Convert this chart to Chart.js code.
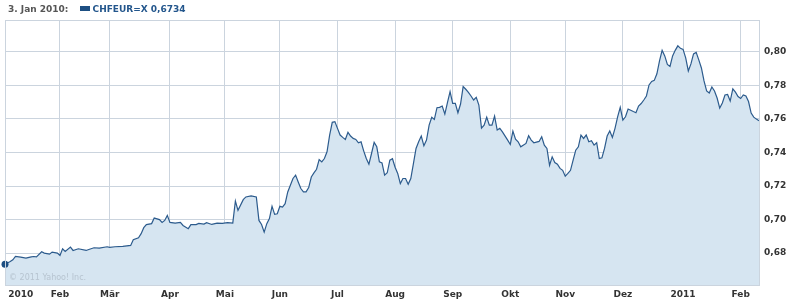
<!DOCTYPE html>
<html>
<head>
<meta charset="utf-8">
<script src="https://cdn.jsdelivr.net/npm/chart.js@4"></script>
<style>
  html, body { margin: 0; padding: 0; background: #fff; }
  #wrap { position: relative; width: 787px; height: 303px; }
  #head { position: absolute; left: 8px; top: 4px; font: bold 9px "DejaVu Sans", sans-serif; color: #555; white-space: nowrap; }
  #head .key { display: inline-block; width: 10px; height: 5px; background: #1d4f82; margin: 0 3px 0 8px; vertical-align: 1px; }
  #head .sym { color: #23568c; }
</style>
</head>
<body>
<div id="wrap">
  <canvas id="chf-chart" width="787" height="303"></canvas>
  <div id="head">3. Jan 2010: <span class="key"></span><span class="sym">CHFEUR=X 0,6734</span></div>
</div>
<script>
// trading day index counted from 3 Jan 2010, CHF in EUR
const tradingDay = [
  0, 2, 3, 4, 6, 8, 10, 11, 12, 14, 15, 17, 18, 20, 21, 22, 23, 25, 26, 28,
  31, 32, 34, 36, 39, 40, 42, 45, 48, 49, 51, 52, 53, 54, 56, 57, 59, 60, 61, 62,
  63, 65, 67, 68, 70, 71, 73, 74, 76, 77, 79, 81, 83, 85, 87, 88, 89, 91, 92, 94,
  96, 97, 98, 99, 100, 101, 102, 103, 104, 105, 106, 107, 108, 109, 110, 111, 112, 113, 114, 115,
  116, 117, 118, 119, 120, 121, 122, 123, 124, 125, 126, 127, 128, 129, 130, 131, 132, 133, 134, 135,
  136, 137, 138, 139, 140, 141, 142, 143, 144, 145, 146, 147, 148, 149, 150, 151, 152, 153, 154, 155,
  156, 157, 158, 159, 160, 161, 162, 163, 164, 165, 166, 167, 168, 169, 170, 171, 172, 173, 174, 175,
  176, 177, 178, 179, 180, 181, 182, 183, 184, 185, 186, 187, 188, 189, 190, 192, 193, 194, 195, 196,
  197, 199, 200, 201, 202, 204, 205, 206, 207, 208, 209, 210, 211, 212, 213, 214, 215, 216, 217, 218,
  219, 220, 221, 222, 223, 224, 225, 226, 227, 228, 229, 230, 231, 232, 233, 234, 235, 236, 237, 238,
  240, 241, 242, 243, 244, 245, 246, 247, 248, 249, 250, 251, 252, 253, 254, 255, 256, 257, 258, 259,
  260, 261, 262, 263, 264, 265, 266, 267, 268, 269, 270, 271, 272, 273, 274, 275, 276, 277, 278, 279,
  280, 281, 282, 283, 284, 285, 286, 287, 288
];
const rate = [
  0.6734, 0.6750, 0.6760, 0.6780, 0.6776, 0.6770, 0.6778, 0.6780, 0.6778, 0.6808, 0.6800, 0.6794, 0.6806, 0.6800, 0.6786, 0.6826, 0.6810, 0.6836, 0.6816, 0.6826,
  0.6816, 0.6822, 0.6832, 0.6830, 0.6838, 0.6834, 0.6838, 0.6840, 0.6846, 0.6880, 0.6892, 0.6916, 0.6952, 0.6970, 0.6976, 0.7009, 0.7000, 0.6983, 0.6995, 0.7025,
  0.6983, 0.6979, 0.6983, 0.6965, 0.6946, 0.6970, 0.6970, 0.6977, 0.6973, 0.6982, 0.6971, 0.6979, 0.6977, 0.6982, 0.6979, 0.7111, 0.7055, 0.7119, 0.7135, 0.7141,
  0.7135, 0.6995, 0.6971, 0.6925, 0.6976, 0.7006, 0.7079, 0.7031, 0.7035, 0.7079, 0.7075, 0.7095, 0.7165, 0.7205, 0.7245, 0.7265, 0.7224, 0.7185, 0.7165, 0.7165,
  0.7191, 0.7254, 0.7278, 0.7300, 0.7358, 0.7344, 0.7364, 0.7404, 0.7504, 0.7580, 0.7584, 0.7544, 0.7504, 0.7490, 0.7478, 0.7520, 0.7498, 0.7484, 0.7478, 0.7458,
  0.7464, 0.7410, 0.7364, 0.7330, 0.7394, 0.7460, 0.7434, 0.7344, 0.7338, 0.7265, 0.7279, 0.7354, 0.7363, 0.7312, 0.7275, 0.7215, 0.7245, 0.7245, 0.7211, 0.7245,
  0.7334, 0.7424, 0.7464, 0.7498, 0.7440, 0.7474, 0.7563, 0.7610, 0.7597, 0.7667, 0.7669, 0.7677, 0.7629, 0.7697, 0.7763, 0.7693, 0.7693, 0.7637, 0.7689, 0.7793,
  0.7777, 0.7759, 0.7737, 0.7713, 0.7729, 0.7683, 0.7545, 0.7563, 0.7610, 0.7563, 0.7563, 0.7617, 0.7534, 0.7544, 0.7523, 0.7474, 0.7448, 0.7528, 0.7480, 0.7464,
  0.7434, 0.7454, 0.7500, 0.7474, 0.7458, 0.7466, 0.7494, 0.7444, 0.7424, 0.7324, 0.7374, 0.7340, 0.7330, 0.7305, 0.7294, 0.7259, 0.7275, 0.7294, 0.7354, 0.7414,
  0.7434, 0.7504, 0.7484, 0.7504, 0.7464, 0.7470, 0.7444, 0.7458, 0.7364, 0.7368, 0.7424, 0.7498, 0.7528, 0.7490, 0.7544, 0.7613, 0.7669, 0.7593, 0.7613, 0.7659,
  0.7644, 0.7637, 0.7677, 0.7692, 0.7713, 0.7737, 0.7803, 0.7824, 0.7830, 0.7869, 0.7946, 0.8009, 0.7976, 0.7925, 0.7913, 0.7976, 0.8009, 0.8036, 0.8021, 0.8015,
  0.7964, 0.7886, 0.7928, 0.7988, 0.7997, 0.7952, 0.7904, 0.7827, 0.7767, 0.7755, 0.7791, 0.7767, 0.7725, 0.7665, 0.7695, 0.7743, 0.7746, 0.7707, 0.7780, 0.7760,
  0.7734, 0.7722, 0.7743, 0.7737, 0.7704, 0.7635, 0.7611, 0.7599, 0.7589
];
const monthStarts = [6, 21, 40, 63, 84, 105, 127, 149, 171, 193, 214, 236, 259, 281];
const monthLabels = ['2010', 'Feb', 'Mär', 'Apr', 'Mai', 'Jun', 'Jul', 'Aug', 'Sep', 'Okt', 'Nov', 'Dez', '2011', 'Feb'];
const rateTicks = [0.68, 0.70, 0.72, 0.74, 0.76, 0.78, 0.80];

const gridColor = '#cbd4de';

// plot frame + copyright line inside the plot
const frame = {
  id: 'frame',
  afterDatasetsDraw(chart) {
    const { ctx, chartArea: a } = chart;
    ctx.save();
    ctx.strokeStyle = gridColor;
    ctx.lineWidth = 1;
    ctx.strokeRect(Math.round(a.left) + 0.5, Math.round(a.top) + 0.5, a.right - a.left, a.bottom - a.top);
    ctx.font = '8px "DejaVu Sans", sans-serif';
    ctx.fillStyle = '#b7c4d0';
    ctx.textBaseline = 'alphabetic';
    ctx.fillText('© 2011 Yahoo! Inc.', a.left + 4, a.bottom - 5);
    ctx.restore();
  }
};

const ctx = document.getElementById('chf-chart').getContext('2d');
new Chart(ctx, {
  type: 'line',
  data: {
    datasets: [{
      data: tradingDay.map((d, i) => ({ x: d, y: rate[i] })),
      borderColor: '#2c5b8d',
      borderWidth: 1.2,
      backgroundColor: '#d6e5f1',
      fill: 'start',
      tension: 0,
      clip: 6,
      pointRadius: c => c.dataIndex === 0 ? 3.5 : 0,
      pointBackgroundColor: '#1d4f82',
      pointBorderWidth: 0
    }]
  },
  options: {
    responsive: false,
    animation: false,
    devicePixelRatio: 1,
    layout: { padding: { left: 5, top: 20, right: 0, bottom: 0 } },
    plugins: { legend: { display: false }, tooltip: { enabled: false } },
    scales: {
      x: {
        type: 'linear',
        min: 0,
        max: 288,
        afterBuildTicks: axis => { axis.ticks = monthStarts.map(v => ({ value: v })); },
        afterFit: axis => { axis.height = 18; },
        grid: {
          color: c => c.index === 0 ? 'rgba(0,0,0,0)' : gridColor,
          drawTicks: false
        },
        border: { color: gridColor },
        ticks: {
          autoSkip: false,
          maxRotation: 0,
          padding: 4,
          color: '#333',
          font: { family: '"DejaVu Sans"', size: 9, weight: 'bold' },
          callback: (v, i) => monthLabels[i]
        }
      },
      y: {
        position: 'right',
        min: 0.661,
        max: 0.819,
        afterBuildTicks: axis => { axis.ticks = rateTicks.map(v => ({ value: v })); },
        afterFit: axis => { axis.width = 28; },
        grid: { color: gridColor, drawTicks: false },
        border: { color: gridColor },
        ticks: {
          padding: 5,
          color: '#333',
          font: { family: '"DejaVu Sans"', size: 9, weight: 'bold' },
          callback: v => v.toFixed(2).replace('.', ',')
        }
      }
    }
  },
  plugins: [frame]
});
</script>
</body>
</html>
